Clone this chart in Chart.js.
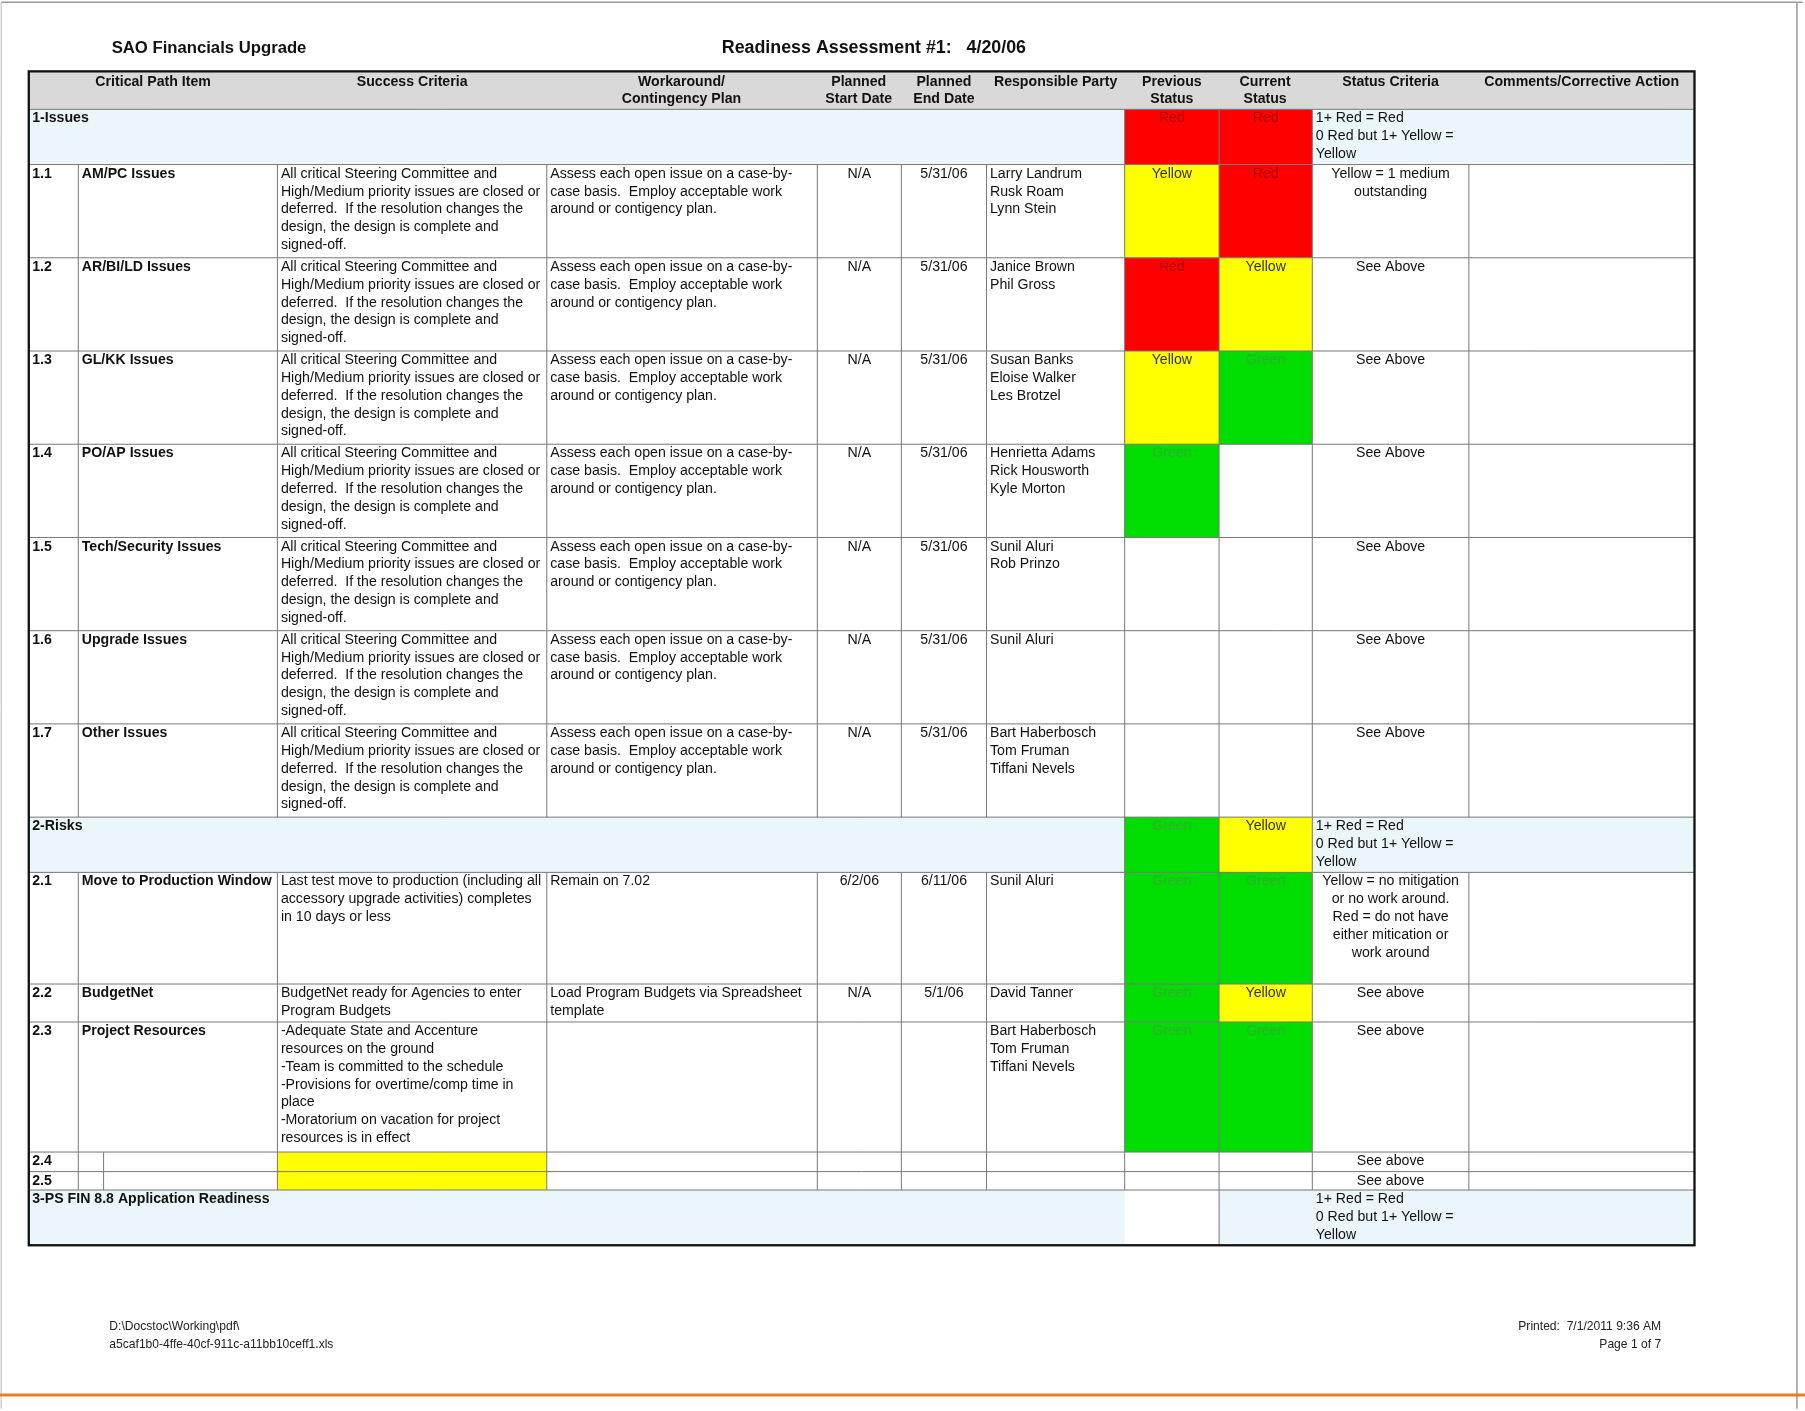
<!DOCTYPE html>
<html>
<head>
<meta charset="utf-8">
<script src="https://cdn.jsdelivr.net/npm/chart.js@4/dist/chart.umd.min.js"></script>
<style>
  html, body { margin: 0; padding: 0; background: #fff; }
  #wrap { width: 1805px; height: 1411px; }
</style>
</head>
<body>
<div id="wrap"><canvas id="sheet" width="1805" height="1411"></canvas></div>
<script>
// sheet grid, in units of the original page
const colEdges = [25, 68, 241, 475, 710, 783, 857, 977, 1059, 1140, 1276, 1472];
const headerLabels = [
  ['Critical Path Item'], ['Success Criteria'], ['Workaround/', 'Contingency Plan'],
  ['Planned', 'Start Date'], ['Planned', 'End Date'], ['Responsible Party'],
  ['Previous', 'Status'], ['Current', 'Status'], ['Status Criteria'], ['Comments/Corrective Action']
];
const headerCenters = [133, 358, 592, 746, 820, 917, 1018, 1099, 1208, 1374];

const crit = ['All critical Steering Committee and', 'High/Medium priority issues are closed or',
  'deferred.  If the resolution changes the', 'design, the design is complete and', 'signed-off.'];
const work = ['Assess each open issue on a case-by-', 'case basis.  Employ acceptable work', 'around or contigency plan.'];
const secCrit = ['1+ Red = Red', '0 Red but 1+ Yellow =', 'Yellow'];

// rows: kind, top, bottom
const rowKinds = ['head', 'sec', 'item', 'item', 'item', 'item', 'item', 'item', 'item', 'sec', 'item', 'item', 'item', 'item', 'item', 'sec'];
const rowTops = [62, 95, 143, 224, 305, 386, 467, 548, 629, 710, 758, 855, 888, 1001, 1018, 1034];
const rowBottoms = [95, 143, 224, 305, 386, 467, 548, 629, 710, 758, 855, 888, 1001, 1018, 1034, 1082];
const rowIds = ['', '1-Issues', '1.1', '1.2', '1.3', '1.4', '1.5', '1.6', '1.7', '2-Risks', '2.1', '2.2', '2.3', '2.4', '2.5', '3-PS FIN 8.8 Application Readiness'];
const rowItems = ['', '', 'AM/PC Issues', 'AR/BI/LD Issues', 'GL/KK Issues', 'PO/AP Issues', 'Tech/Security Issues', 'Upgrade Issues', 'Other Issues',
  '', 'Move to Production Window', 'BudgetNet', 'Project Resources', '', '', ''];
const successText = [[], [], crit, crit, crit, crit, crit, crit, crit, [],
  ['Last test move to production (including all', 'accessory upgrade activities) completes', 'in 10 days or less'],
  ['BudgetNet ready for Agencies to enter', 'Program Budgets'],
  ['-Adequate State and Accenture', 'resources on the ground', '-Team is committed to the schedule',
   '-Provisions for overtime/comp time in', 'place', '-Moratorium on vacation for project', 'resources is in effect'],
  [], [], []];
const workaroundText = [[], [], work, work, work, work, work, work, work, [],
  ['Remain on 7.02'], ['Load Program Budgets via Spreadsheet', 'template'], [], [], [], []];
const startDates = ['', '', 'N/A', 'N/A', 'N/A', 'N/A', 'N/A', 'N/A', 'N/A', '', '6/2/06', 'N/A', '', '', '', ''];
const endDates = ['', '', '5/31/06', '5/31/06', '5/31/06', '5/31/06', '5/31/06', '5/31/06', '5/31/06', '', '6/11/06', '5/1/06', '', '', '', ''];
const parties = [[], [], ['Larry Landrum', 'Rusk Roam', 'Lynn Stein'], ['Janice Brown', 'Phil Gross'],
  ['Susan Banks', 'Eloise Walker', 'Les Brotzel'], ['Henrietta Adams', 'Rick Housworth', 'Kyle Morton'],
  ['Sunil Aluri', 'Rob Prinzo'], ['Sunil Aluri'], ['Bart Haberbosch', 'Tom Fruman', 'Tiffani Nevels'], [],
  ['Sunil Aluri'], ['David Tanner'], ['Bart Haberbosch', 'Tom Fruman', 'Tiffani Nevels'], [], [], []];
const prevStatus = ['', 'Red', 'Yellow', 'Red', 'Yellow', 'Green', '', '', '', 'Green', 'Green', 'Green', 'Green', '', '', ''];
const curStatus = ['', 'Red', 'Red', 'Yellow', 'Green', '', '', '', '', 'Yellow', 'Green', 'Yellow', 'Green', '', '', ''];
const criteria = [[], secCrit, ['Yellow = 1 medium', 'outstanding'], ['See Above'], ['See Above'], ['See Above'], ['See Above'],
  ['See Above'], ['See Above'], secCrit,
  ['Yellow = no mitigation', 'or no work around.', 'Red = do not have', 'either mitication or', 'work around'],
  ['See above'], ['See above'], ['See above'], ['See above'], secCrit];
const highlightSuccess = [false, false, false, false, false, false, false, false, false, false, false, false, false, true, true, false];

const fills = { Red: '#ff0000', Yellow: '#ffff00', Green: '#00dd00' };
const inks = { Red: '#b00000', Yellow: '#333333', Green: '#30b030' };

const sheetPlugin = {
  id: 'sheet',
  afterDraw(chart) {
    const ctx = chart.ctx;
    const xs = chart.scales.x, ys = chart.scales.y;
    const X = v => xs.getPixelForValue(v);
    const Y = v => ys.getPixelForValue(v);
    const s = (X(100) - X(0)) / 100;
    const L = colEdges[0], R = colEdges[colEdges.length - 1];
    const font = (sz, bold) => (bold ? 'bold ' : '') + (sz * s) + 'px "Liberation Sans", Arial, sans-serif';
    const rect = (x0, y0, x1, y1, c) => { ctx.fillStyle = c; ctx.fillRect(X(x0), Y(y0), X(x1) - X(x0), Y(y1) - Y(y0)); };
    const line = (x0, y0, x1, y1, c, w) => {
      ctx.strokeStyle = c; ctx.lineWidth = w; ctx.beginPath();
      ctx.moveTo(X(x0), Y(y0)); ctx.lineTo(X(x1), Y(y1)); ctx.stroke();
    };
    const text = (lines, x, top, align, bold, color, sz) => {
      ctx.font = font(sz || 12.3, bold); ctx.fillStyle = color || '#111';
      ctx.textAlign = align; ctx.textBaseline = 'middle';
      lines.forEach((t, i) => ctx.fillText(t, X(x), Y(top + 8 + i * 15.5)));
    };

    ctx.save();
    // page frame and bottom rule
    line(1, 2, 1566, 2, '#999', 1.5);
    line(1561, 2, 1561, 1224, '#999', 1.5);
    line(1, 2, 1, 1224, '#bbb', 1);
    line(0, 1212, 1568, 1212, '#f07a20', 3);

    text(['SAO Financials Upgrade'], 97, 34, 'left', true, '#111', 14.5);
    text(['Readiness Assessment #1:   4/20/06'], 627, 34, 'left', true, '#111', 15.5);

    rowKinds.forEach((kind, r) => {
      const t = rowTops[r], b = rowBottoms[r];
      if (kind === 'head') rect(L, t, R, b, '#d9d9d9');
      if (kind === 'sec') rect(L, t, R, b, '#eaf6fa');
      if (highlightSuccess[r]) rect(colEdges[2], t, colEdges[3], b, '#ffff00');
      if (prevStatus[r]) rect(colEdges[7], t, colEdges[8], b, fills[prevStatus[r]]);
      if (curStatus[r]) rect(colEdges[8], t, colEdges[9], b, fills[curStatus[r]]);
      if (kind === 'sec' && r === rowKinds.length - 1) rect(colEdges[7], t, colEdges[8], b, '#ffffff');
    });

    // grid
    rowKinds.forEach((kind, r) => {
      const t = rowTops[r], b = rowBottoms[r];
      if (r > 0) line(L, t, R, t, '#777', 1);
      let cols = [];
      if (kind === 'item') cols = colEdges.slice(1, -1);
      else if (kind === 'sec') cols = r === rowKinds.length - 1 ? [colEdges[8]] : [colEdges[7], colEdges[8], colEdges[9]];
      cols.forEach(c => line(c, t, c, b, '#777', 1));
      if (kind === 'item' && !rowItems[r]) line(90, t, 90, b, '#777', 1);
    });
    ctx.strokeStyle = '#111'; ctx.lineWidth = 2 * s;
    ctx.strokeRect(X(L), Y(62), X(R) - X(L), Y(1082) - Y(62));

    // header
    headerLabels.forEach((lab, i) => text(lab, headerCenters[i], 63, 'center', true, '#111', 12.3));

    rowKinds.forEach((kind, r) => {
      if (kind === 'head') return;
      const t = rowTops[r] + (kind === 'item' && rowBottoms[r] - rowTops[r] < 20 ? 0 : 0);
      if (kind === 'sec') {
        text([rowIds[r]], 28, t, 'left', true);
        text(criteria[r], 1143, t, 'left', false);
      } else {
        text([rowIds[r]], 28, t, 'left', true);
        text([rowItems[r]], 71, t, 'left', true);
        text(successText[r], 244, t, 'left', false);
        text(workaroundText[r], 478, t, 'left', false);
        text([startDates[r]], 746.5, t, 'center', false);
        text([endDates[r]], 820, t, 'center', false);
        text(parties[r], 860, t, 'left', false);
        text(criteria[r], 1208, t, 'center', false);
      }
      if (prevStatus[r]) text([prevStatus[r]], 1018, t, 'center', false, inks[prevStatus[r]]);
      if (curStatus[r]) text([curStatus[r]], 1099.5, t, 'center', false, inks[curStatus[r]]);
    });

    // footer
    text(['D:\\Docstoc\\Working\\pdf\\', 'a5caf1b0-4ffe-40cf-911c-a11bb10ceff1.xls'], 95, 1145, 'left', false, '#222', 10.5);
    text(['Printed:  7/1/2011 9:36 AM', 'Page 1 of 7'], 1443, 1145, 'right', false, '#222', 10.5);
    ctx.restore();
  }
};

new Chart(document.getElementById('sheet'), {
  type: 'scatter',
  data: { datasets: [{ data: [] }] },
  options: {
    responsive: false,
    animation: false,
    devicePixelRatio: 1,
    layout: { padding: 0 },
    plugins: { legend: { display: false }, tooltip: { enabled: false } },
    scales: {
      x: { type: 'linear', min: 0, max: 1568, display: false },
      y: { type: 'linear', min: 0, max: 1226, reverse: true, display: false }
    }
  },
  plugins: [sheetPlugin]
});
</script>
</body>
</html>
